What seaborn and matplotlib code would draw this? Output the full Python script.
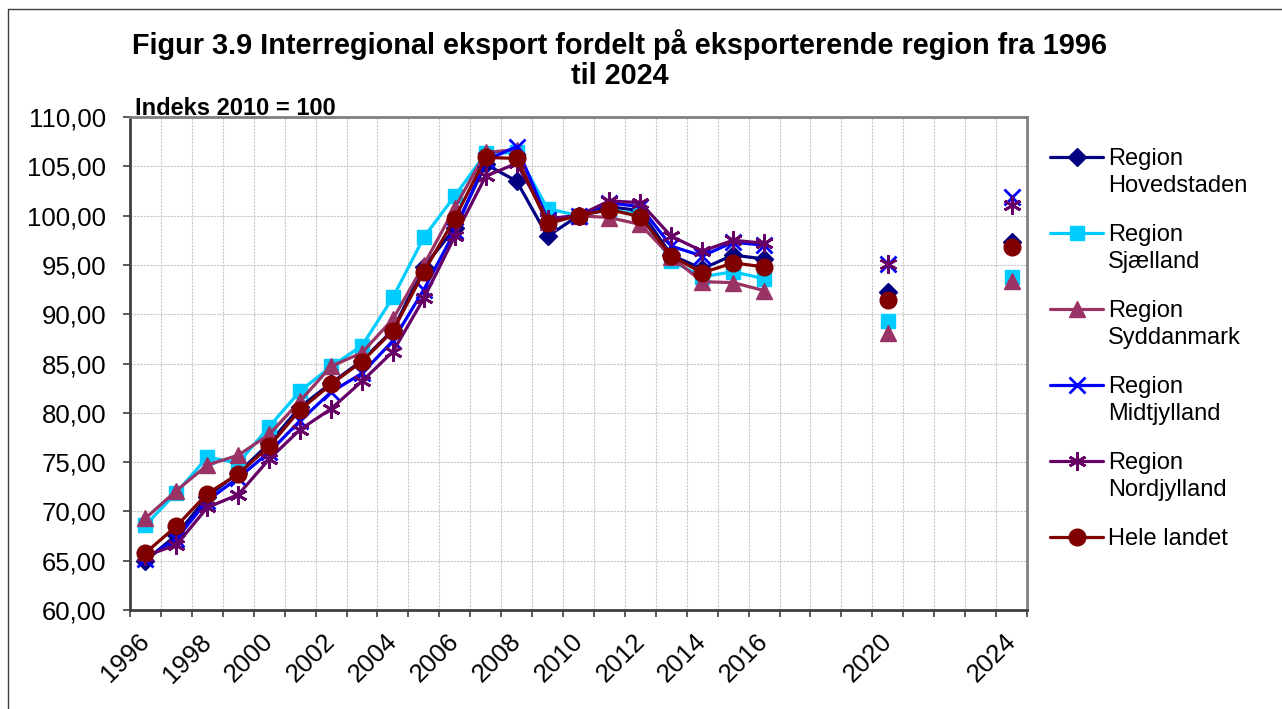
import numpy as np
import pandas as pd
import matplotlib
matplotlib.use("Agg")
import matplotlib.pyplot as plt
from matplotlib.lines import Line2D
from matplotlib.transforms import ScaledTranslation
from matplotlib.ticker import FixedLocator, FuncFormatter, MultipleLocator
import seaborn as sns

# years with a continuous series, and the two separate years after the gap
years_line = list(range(1996, 2017))
years_extra = [2020, 2024]

hovedstaden = [65.0, 67.6, 71.5, 73.9, 76.9, 80.6, 83.0, 85.3, 88.4, 94.8, 98.7,
               105.2, 103.5, 97.9, 100.0, 100.9, 100.5, 96.0, 94.6, 96.0, 95.6]
sjaelland = [68.6, 71.9, 75.5, 74.9, 78.6, 82.2, 84.7, 86.8, 91.7, 97.8, 102.0,
             106.3, 106.4, 100.7, 100.0, 100.6, 100.1, 95.4, 93.8, 94.3, 93.6]
syddanmark = [69.3, 72.1, 74.7, 75.7, 77.8, 81.2, 84.7, 86.1, 89.5, 95.0, 100.8,
              106.4, 106.7, 99.4, 100.0, 99.8, 99.1, 95.8, 93.3, 93.2, 92.4]
midtjylland = [65.2, 67.2, 71.1, 73.4, 76.0, 79.2, 82.1, 84.0, 87.3, 92.5, 98.4,
               105.6, 107.0, 99.6, 100.0, 101.3, 100.9, 96.9, 95.9, 97.3, 97.0]
nordjylland = [65.5, 66.6, 70.4, 71.7, 75.3, 78.3, 80.4, 83.2, 86.2, 91.6, 97.9,
               104.0, 105.3, 99.7, 100.0, 101.5, 101.3, 97.9, 96.4, 97.5, 97.2]
hele_landet = [65.8, 68.5, 71.8, 73.8, 76.6, 80.3, 82.9, 85.2, 88.3, 94.3, 99.7,
               105.9, 105.8, 99.2, 100.0, 100.6, 99.9, 95.9, 94.2, 95.2, 94.8]

# 2020 and 2024
hovedstaden_extra = [92.3, 97.3]
sjaelland_extra = [89.3, 93.8]
syddanmark_extra = [88.1, 93.4]
midtjylland_extra = [95.1, 101.9]
nordjylland_extra = [95.1, 101.1]
hele_landet_extra = [91.4, 96.8]

labels = ["Region\nHovedstaden", "Region\nSjælland", "Region\nSyddanmark",
          "Region\nMidtjylland", "Region\nNordjylland", "Hele landet"]
tick_years = [1996, 1998, 2000, 2002, 2004, 2006, 2008, 2010, 2012, 2014, 2016, 2020, 2024]

series = [
    (hovedstaden, hovedstaden_extra, "#000080", "D", 9, 1),
    (sjaelland, sjaelland_extra, "#00CCFF", "s", 10, 1),
    (syddanmark, syddanmark_extra, "#993366", "^", 11, 1),
    (midtjylland, midtjylland_extra, "#0000FF", "x", 11, 2),
    (nordjylland, nordjylland_extra, "#660066", (6, 2, 0), 13, 2),
    (hele_landet, hele_landet_extra, "#800000", "o", 12, 1),
]

sns.set_style("white")
plt.rcParams["font.family"] = ["Liberation Sans", "DejaVu Sans"]
plt.rcParams["text.color"] = "black"
plt.rcParams["xtick.color"] = "black"
plt.rcParams["ytick.color"] = "black"

fig = plt.figure(figsize=(12.82, 7.09), dpi=100)
ax = fig.add_axes([130 / 1282, 1 - 610 / 709, 897 / 1282, 493 / 709])

for vals, extra, color, marker, ms, mew in series:
    sns.lineplot(x=years_line, y=vals, ax=ax, color=color, linewidth=2.3,
                 marker=marker, markersize=ms, markeredgewidth=mew,
                 markeredgecolor=color, markerfacecolor=color)
    sns.lineplot(x=years_extra, y=extra, ax=ax, color=color, linestyle="none",
                 marker=marker, markersize=ms, markeredgewidth=mew,
                 markeredgecolor=color, markerfacecolor=color)

ax.set_xlim(1995.5, 2024.5)
ax.set_ylim(60, 110)
ax.xaxis.set_major_locator(FixedLocator(tick_years))
ax.xaxis.set_minor_locator(FixedLocator(np.arange(1995.5, 2025, 1)))
ax.yaxis.set_major_locator(MultipleLocator(5))
ax.yaxis.set_major_formatter(FuncFormatter(lambda v, p: f"{v:.2f}".replace(".", ",")))
ax.set_xticklabels([str(y) for y in tick_years], rotation=45, ha="right")

ax.tick_params(axis="x", which="major", length=0, pad=14, labelsize=18.5)
ax.tick_params(axis="x", which="minor", length=5, width=1.2, direction="out",
               color="#404040", bottom=True)
ax.tick_params(axis="y", which="major", length=5, width=1.2, direction="out",
               color="#404040", pad=12, labelsize=18.5, left=True)

# shift rotated year labels a bit to the right, like the original
shift = ScaledTranslation(9 / 100, 0, fig.dpi_scale_trans)
for lab in ax.get_xticklabels():
    lab.set_transform(lab.get_transform() + shift)

ax.grid(False)
ax.grid(True, which="major", axis="y", color="#c8c8c8", linestyle=(0, (2, 1)), linewidth=0.8)
ax.grid(True, which="minor", axis="x", color="#c8c8c8", linestyle=(0, (2, 1)), linewidth=0.8)

for side in ["left", "bottom"]:
    ax.spines[side].set_color("#404040")
    ax.spines[side].set_linewidth(2)
for side in ["top", "right"]:
    ax.spines[side].set_color("#808080")
    ax.spines[side].set_linewidth(2)
ax.set_xlabel("")
ax.set_ylabel("")

fig.text(620 / 1282, 1 - 29 / 709,
         "Figur 3.9 Interregional eksport fordelt på eksporterende region fra 1996\ntil 2024",
         ha="center", va="top", fontsize=20.8, fontweight="bold", linespacing=1.08)
fig.text(135 / 1282, 1 - 115 / 709, "Indeks 2010 = 100", ha="left", va="baseline",
         fontsize=17, fontweight="bold")

# legend drawn by hand so the marker sits on the first text line
for i, (vals, extra, color, marker, ms, mew) in enumerate(series):
    yc = 1 - (157 + 76 * i) / 709
    fig.add_artist(Line2D([1050 / 1282, 1103 / 1282], [yc, yc], transform=fig.transFigure,
                          color=color, linewidth=2.3))
    fig.add_artist(Line2D([1077 / 1282], [yc], transform=fig.transFigure, color=color,
                          marker=marker, markersize=ms, markeredgewidth=mew,
                          markeredgecolor=color, markerfacecolor=color, linestyle="none"))
    fig.text(1108 / 1282, yc + 9 / 709, labels[i], ha="left", va="top", fontsize=17,
             linespacing=1.3)

# outer frame of the chart
fig.add_artist(Line2D([8 / 1282, 1], [1 - 9 / 709, 1 - 9 / 709], transform=fig.transFigure,
                      color="#404040", linewidth=1))
fig.add_artist(Line2D([8 / 1282, 8 / 1282], [0, 1 - 9 / 709], transform=fig.transFigure,
                      color="#404040", linewidth=1))

fig.savefig("out.png", dpi=100)
